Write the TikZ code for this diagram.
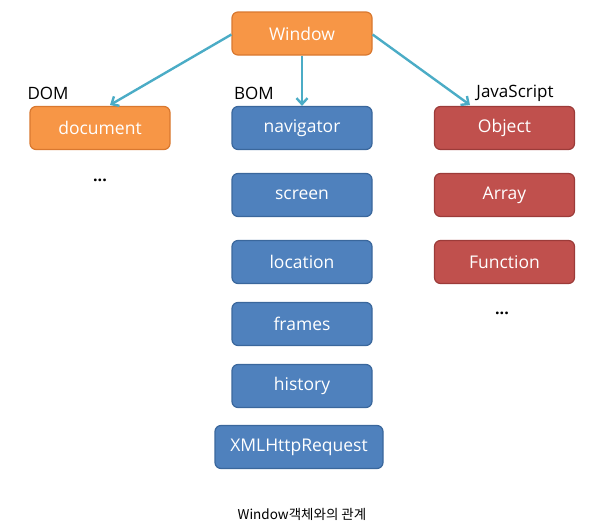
\documentclass[tikz,border=0pt]{standalone}
\usepackage{fontspec}
\setmainfont{Open Sans}
\newfontfamily\krfont{Noto Sans CJK KR}
\usetikzlibrary{arrows.meta}
\definecolor{oFill}{HTML}{F79646}
\definecolor{oEdge}{HTML}{D9782F}
\definecolor{bFill}{HTML}{4F81BD}
\definecolor{bEdge}{HTML}{3A679C}
\definecolor{rFill}{HTML}{C0504D}
\definecolor{rEdge}{HTML}{9C3B39}
\definecolor{arr}{HTML}{4BACC6}
\tikzset{
  box/.style={draw, line width=1.2pt, rounded corners=6pt, minimum width=140pt, minimum height=43pt, inner sep=0pt, text=white, font=\fontsize{17.5}{20}\selectfont},
  obox/.style={box, fill=oFill, draw=oEdge},
  bbox/.style={box, fill=bFill, draw=bEdge},
  rbox/.style={box, fill=rFill, draw=rEdge},
  lab/.style={font=\fontsize{17}{20}\selectfont, text=black, inner sep=0pt},
  dots/.style={font=\bfseries\fontsize{16}{20}\selectfont, text=black, inner sep=0pt},
  conn/.style={draw=arr, line width=2.4pt, -{Straight Barb[length=6pt,width=11pt,line width=2.4pt]}},
}
\begin{document}
\begin{tikzpicture}[x=1pt,y=-1pt]
\useasboundingbox (0,0) rectangle (610,525);
\node[obox] (win) at (302,33.5) {Window};
\node[obox] (doc) at (100,128) {document};
\node[bbox] (nav) at (302,128) {navigator};
\node[rbox] (obj) at (504.5,128) {Object};
\node[bbox] (scr) at (302,195) {screen};
\node[bbox] (loc) at (302,262) {location};
\node[bbox] (frm) at (302,324) {frames};
\node[bbox] (his) at (302,386) {history};
\node[bbox, minimum width=168pt] (xhr) at (299,447) {XMLHttpRequest};
\node[rbox] (arr) at (504.5,195) {Array};
\node[rbox] (fun) at (504.5,262) {Function};
\node[lab] (ldom) at (48,93) {DOM};
\node[lab] (lbom) at (254,93) {BOM};
\node[lab] (ljs) at (515,93) {JavaScript};
\node[dots] (d1) at (100,180) {...};
\node[dots] (d2) at (502,313) {...};
\node[font=\krfont\fontsize{13.5}{16}\selectfont, inner sep=0pt] (cap) at (302,514) {Window객체와의 관계};
\coordinate (dtop) at (110,105);
\coordinate (otop) at (470,105);
\draw[conn] (win.west) ++(0,1) -- (dtop);
\draw[conn] (win.south) -- (nav.north);
\draw[conn] (win.east) ++(0,1) -- (otop);
\end{tikzpicture}
\end{document}
